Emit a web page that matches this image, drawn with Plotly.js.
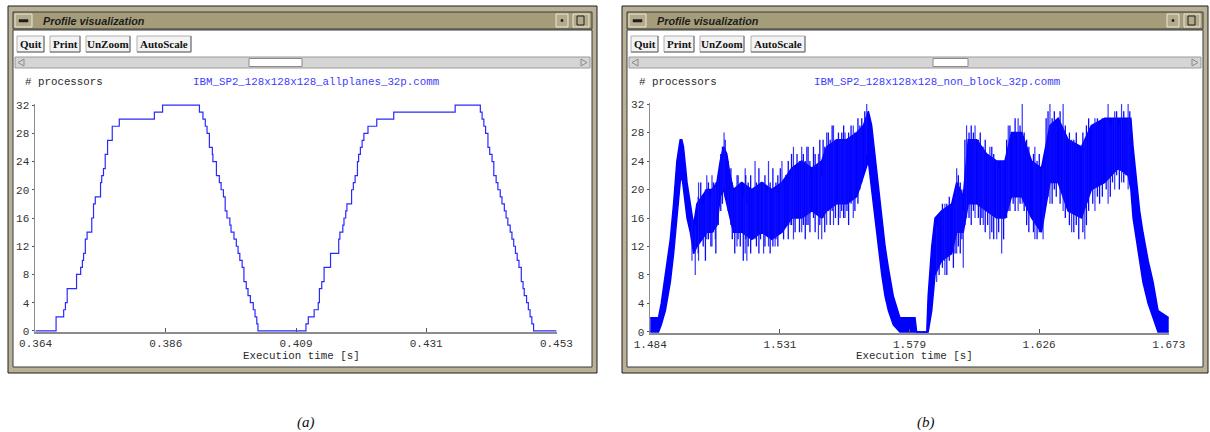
<!DOCTYPE html>
<html><head><meta charset="utf-8">
<script src="https://cdn.plot.ly/plotly-3.0.1.min.js"></script>
<style>html,body{margin:0;padding:0;background:#fff;overflow:hidden}#chart{width:1210px;height:432px}</style>
</head><body><div id="chart"></div>
<script>
// ---------- Panel (a): IBM_SP2_128x128x128_allplanes_32p.comm ----------
const fileA = 'IBM_SP2_128x128x128_allplanes_32p.comm';
const tA = [0.3640,0.3675,0.3688,0.3691,0.3694,0.3710,0.3717,0.3720,0.3722,0.3725,0.3728,0.3736,0.3739,0.3742,0.3751,0.3753,0.3756,0.3759,0.3763,0.3771,0.3783,0.3843,0.3857,
 0.3920,0.3926,0.3930,0.3933,0.3937,0.3942,0.3943,0.3949,0.3954,0.3957,0.3961,0.3964,0.3967,0.3972,0.3974,0.3979,0.3983,0.3986,0.3989,0.3993,0.3996,0.4000,0.4003,0.4007,0.4012,0.4015,0.4018,0.4020,
 0.4102,0.4106,0.4116,0.4123,0.4125,0.4129,0.4133,0.4144,0.4158,0.4160,0.4165,0.4167,0.4170,0.4172,0.4180,0.4183,0.4186,0.4190,0.4192,0.4195,0.4198,0.4201,0.4208,0.4223,0.4252,0.4357,
 0.4400,0.4403,0.4406,0.4409,0.4413,0.4416,0.4420,0.4423,0.4427,0.4430,0.4434,0.4437,0.4441,0.4444,0.4447,0.4451,0.4454,0.4457,0.4460,0.4463,0.4466,0.4470,0.4473,0.4475,0.4479,0.4482,0.4485,0.4488,0.4491,0.4530];
const procA = [0,2,3,4,6,8,9,10,11,13,14,16,18,19,21,22,23,25,27,29,30,31,32,
 31,30,29,28,26,25,24,22,21,20,19,17,16,15,14,13,12,11,10,9,7,6,5,4,3,2,1,0,
 1,2,3,4,6,7,9,11,13,14,15,16,17,18,20,21,22,24,25,26,27,28,29,30,31,32,
 31,30,29,28,26,25,24,22,21,20,19,18,17,16,15,14,13,12,11,10,9,7,6,5,4,3,2,1,0,0];
const tickValsA = [0.364,0.38625,0.4085,0.43075,0.453];
const tickTextA = ['0.364','0.386','0.409','0.431','0.453'];

// ---------- Panel (b): IBM_SP2_128x128x128_non_block_32p.comm ----------
const fileB = 'IBM_SP2_128x128x128_non_block_32p.comm';
// dense core of the signal: lower / upper envelope
const tB = [1.4840,1.4870,1.4880,1.4895,1.4904,1.4913,1.4925,1.4937,1.4949,1.4955,1.4961,1.4974,1.4986,1.4998,1.5010,1.5028,1.5046,1.5065,1.5083,1.5095,1.5107,1.5119,1.5131,1.5143,1.5174,1.5210,1.5247,1.5283,1.5320,1.5356,1.5392,1.5429,1.5465,1.5483,1.5520,1.5556,1.5593,1.5617,1.5635,1.5647,1.5659,1.5671,1.5684,1.5696,1.5708,1.5726,1.5750,1.5805,1.5811,1.5848,1.5853,1.5866,1.5878,1.5902,1.5939,1.5957,1.5981,1.5999,1.6030,1.6066,1.6103,1.6133,1.6157,1.6194,1.6230,1.6266,1.6297,1.6327,1.6363,1.6412,1.6448,1.6497,1.6545,1.6582,1.6592,1.6600,1.6612,1.6624,1.6636,1.6655,1.6673,1.6691,1.6730];
const loB = [0,0,1,3,5,7,11,16,21,22, 20,16,14,11,12,13,14,14,15,19, 20,18,16,14,14,13,14,13,14,16, 16,17,16,17,18,18,19,22,24,20, 16,12,8,5,3,1,0,0,0,0, 0,3,8,10,11,14,14,18,18,17, 16,16,19,19,16,14,21,21,17,16, 20,21,23,22,20,16,13,10,7,4, 2,0,0];
const hiB = [2,2,4,8,11,13,18,24,27,27, 26,21,18,15,18,19,20,20,21,24, 26,25,22,20,21,20,21,20,21,23, 24,23,24,26,27,27,28,29,31,29, 25,21,16,12,9,5,2,2,0,0, 5,12,16,17,18,21,19,27,27,25, 24,24,28,28,24,23,29,30,27,26, 29,30,30,30,30,26,21,17,14,10, 7,3,2];
// isolated long spikes (time, min, max)
const spikeT = [1.4992,1.5004,1.5016,1.5046,1.5065,1.5077,1.5109,1.5156,1.5186,1.5192,1.5222,1.5253,1.5271,1.5295,1.5320,1.5350,1.5362,1.5392,1.5416,1.5453,1.5465,1.5483,1.5508,1.5532,1.5550,1.5580,1.5629,1.5884,1.5914,1.5957,1.5981,1.5993,1.6024,1.6054,1.6078,1.6103,1.6121,1.6145,1.6181,1.6196,1.6242,1.6272,1.6297,1.6345,1.6376,1.6424,1.6461,1.6509,1.6533,1.6558,1.6582];
const spikeLo = [10,8,10,13,12,13,20,12,11,10,13,11,12,12,14,15,13,14,15,13,13,15,15,16,16,16,25,7,8,11,9,16,16,15,13,13,11,17,17,18,13,13,18,17,14,13,17,18,20,21,20];
const spikeHi = [16,15,21,22,22,21,28,22,23,18,24,21,24,20,24,22,26,26,26,25,22,28,29,27,28,29,32,15,18,23,17,29,29,26,26,24,24,29,30,32,26,23,32,32,27,27,30,32,31,32,32];
// fine jitter of the busy phases (time, min, max)
const jitterT = [1.5015,1.5024,1.5033,1.5041,1.5052,1.5061,1.5070,1.5079,1.5088,1.5097,1.5103,1.5113,1.5124,1.5134,1.5139,1.5148,1.5160,1.5168,1.5179,1.5188,1.5197,1.5206,1.5215,1.5227,1.5236,1.5242,1.5258,1.5266,1.5277,1.5287,1.5298,1.5305,1.5314,1.5326,1.5334,1.5343,1.5355,1.5368,1.5375,1.5384,1.5398,1.5405,1.5411,1.5422,1.5435,1.5441,1.5458,1.5470,1.5476,1.5489,1.5496,1.5503,1.5515,1.5526,1.5538,1.5545,1.5557,1.5563,1.5572,1.5586,1.5597,1.5604,1.5611,1.5622,
 1.5893,1.5905,1.5912,1.5921,1.5930,1.5945,1.5951,1.5963,1.5970,1.5976,1.5987,1.6002,1.6010,1.6018,1.6036,1.6043,1.6049,1.6061,1.6070,1.6085,1.6092,1.6110,1.6128,1.6139,1.6151,1.6163,1.6170,1.6188,1.6203,1.6212,1.6220,1.6237,1.6250,1.6258,1.6283,1.6290,1.6305,1.6313,1.6320,1.6334,1.6353,1.6368,1.6384,1.6393,1.6402,1.6417,1.6430,1.6438,1.6453,1.6470,1.6478,1.6488,1.6502,1.6517,1.6525,1.6540,1.6550,1.6566,1.6574,1.6588];
const jitterLo = [11,13,12,10,13,12,14,11,15,17,18,19,17,15,13,11,13,12,10,13,12,11,13,12,11,13,12,14,11,12,13,12,14,13,15,13,15,14,16,14,15,13,15,14,16,14,15,16,14,17,15,17,16,15,17,16,17,15,18,17,18,20,21,23,
 8,9,10,8,10,9,11,12,11,13,15,16,15,17,16,15,16,14,15,14,13,14,13,16,17,18,17,18,17,15,14,14,13,14,18,19,18,20,19,18,16,15,14,15,13,14,15,17,18,19,18,19,20,19,21,22,20,21,22,21];
const jitterHi = [19,21,18,20,21,19,21,20,22,25,26,27,24,23,21,20,22,21,19,22,21,22,20,21,23,21,22,20,21,23,21,22,23,21,22,24,25,23,25,24,25,24,26,24,26,25,27,27,26,28,27,29,27,28,28,29,27,28,29,28,30,29,30,31,
 16,18,17,18,19,18,19,22,21,20,27,28,29,28,27,28,26,27,25,26,25,23,24,27,29,28,30,29,28,27,26,25,24,25,30,31,30,31,29,31,29,28,27,28,26,28,29,30,29,30,29,30,30,29,30,31,29,31,30,31];
const tickValsB = [1.484,1.53125,1.5785,1.62575,1.673];
const tickTextB = ['1.484','1.531','1.579','1.626','1.673'];

const yTicks = [0,4,8,12,16,20,24,28,32];
const yLabel = '# processors';
const xLabel = 'Execution time [s]';
const winTitle = 'Profile visualization';
const buttons = ['Quit','Print','UnZoom','AutoScale'];
const captions = ['(a)','(b)'];

// ---------- geometry helpers ----------
const W = 1210, H = 432;
const shapes = [], ann = [];
const px = x => x / W, py = y => 1 - y / H;
function rect(x0,y0,x1,y1,fill,lc,lw){
  shapes.push({type:'rect',xref:'paper',yref:'paper',x0:px(x0),x1:px(x1),y0:py(y1),y1:py(y0),
    fillcolor:fill,line:{color:lc||'rgba(0,0,0,0)',width:lw===undefined?1:lw},layer:'below'});
}
function seg(x0,y0,x1,y1,c,w){
  shapes.push({type:'line',xref:'paper',yref:'paper',x0:px(x0),x1:px(x1),y0:py(y0),y1:py(y1),
    line:{color:c,width:w||1},layer:'below'});
}
function poly(pts,fill,lc){
  const d = pts.map((p,i)=>(i?'L':'M')+px(p[0]).toFixed(5)+','+py(p[1]).toFixed(5)).join(' ')+' Z';
  shapes.push({type:'path',xref:'paper',yref:'paper',path:d,fillcolor:fill,line:{color:lc,width:1},layer:'below'});
}
function txt(x,y,t,font,xa){
  ann.push({xref:'paper',yref:'paper',x:px(x),y:py(y),text:t,showarrow:false,xanchor:xa||'left',yanchor:'middle',font:font});
}
const mono = {family:'Liberation Mono, DejaVu Sans Mono, monospace', size:10.8, color:'#2a2a2a'};

function windowChrome(L,R,T,B,thumb0,thumb1,fileText,fileX,xTitleX){
  rect(L,T,R,B,'#b8b196','#1e1e1e',1);
  rect(L+5,T+6,R-5,T+23,'#a59d7a','#3a3a3a',1);
  rect(L+5,T+24,R-5,B-6,'#ffffff','#3a3a3a',1);
  // menu button
  rect(L+7,T+8,L+24,T+21,'#b3ab8b','#ece8d8',1);
  rect(L+11,T+13.5,L+20,T+16,'#1e1e1e','#1e1e1e',0.5);
  txt(L+33,T+14.5,'<b><i>'+winTitle+'</i></b>',{family:'Liberation Sans, Arial, sans-serif',size:10.8,color:'#1c1c1c'});
  // right title bar buttons
  rect(R-41,T+8,R-29,T+21,'#b3ab8b','#ece8d8',1);
  rect(R-36,T+13.5,R-34,T+15.5,'#1e1e1e','#1e1e1e',0.5);
  rect(R-24,T+8,R-8,T+21,'#b3ab8b','#ece8d8',1);
  rect(R-20,T+10,R-13,T+19,'rgba(0,0,0,0)','#1e1e1e',1);
  // push buttons
  const bx = [[9,36],[42,72],[78,122],[129,183]];
  buttons.forEach((b,i)=>{
    const x0=L+bx[i][0], x1=L+bx[i][1];
    rect(x0,T+30,x1,T+46,'#f3f3f3','#b0b0b0',1);
    seg(x0,T+46,x1,T+46,'#6a6a6a',1);
    seg(x1,T+30,x1,T+46,'#6a6a6a',1);
    txt((x0+x1)/2,T+38,'<b>'+b+'</b>',{family:'Liberation Serif, Times New Roman, serif',size:11,color:'#111'},'center');
  });
  // scrollbar
  rect(L+7,T+51,R-7,T+62,'#d5d5d5','#9a9a9a',1);
  poly([[L+10,T+56.5],[L+16,T+53],[L+16,T+60]],'rgba(0,0,0,0)','#8a8a8a');
  poly([[R-10,T+56.5],[R-16,T+53],[R-16,T+60]],'rgba(0,0,0,0)','#8a8a8a');
  rect(thumb0,T+52.5,thumb1,T+60.5,'#ffffff','#8a8a8a',1);
  // plot texts
  txt(L+15,T+76,yLabel,mono);
  txt(fileX,T+76,fileText,Object.assign({},mono,{color:'#3c3cff'}),'center');
  txt(xTitleX,T+350,xLabel,mono,'center');
}
windowChrome(8,597,6,373,249,302,fileA,315.5,301.5);
windowChrome(622,1208,6,373,933,968,fileB,937,914.5);
txt(305.5,422,'<i>'+captions[0]+'</i>',{family:'Liberation Serif, DejaVu Serif, serif',size:15,color:'#111'},'center');
txt(925.5,422,'<i>'+captions[1]+'</i>',{family:'Liberation Serif, DejaVu Serif, serif',size:15,color:'#111'},'center');

// ---------- traces ----------
function segments(T,LO,HI){
  const x=[], y=[];
  T.forEach((t,i)=>{ x.push(t,t,null); y.push(LO[i],HI[i],null); });
  return {x:x,y:y};
}
const sp = segments(spikeT,spikeLo,spikeHi);
const jt = segments(jitterT,jitterLo,jitterHi);

const traces = [
  {x:tA, y:procA, type:'scatter', mode:'lines', line:{shape:'hv',color:'#2a2aff',width:1.2}, xaxis:'x', yaxis:'y', hoverinfo:'skip'},
  {x:tB, y:loB, type:'scatter', mode:'lines', line:{color:'#0000ff',width:1.5}, xaxis:'x2', yaxis:'y2', hoverinfo:'skip'},
  {x:tB, y:hiB, type:'scatter', mode:'lines', fill:'tonexty', fillcolor:'#0000ff', line:{color:'#0000ff',width:1.5}, xaxis:'x2', yaxis:'y2', hoverinfo:'skip'},
  {x:jt.x, y:jt.y, type:'scatter', mode:'lines', line:{color:'#0a0aff',width:1.3}, xaxis:'x2', yaxis:'y2', hoverinfo:'skip', connectgaps:false},
  {x:sp.x, y:sp.y, type:'scatter', mode:'lines', line:{color:'rgba(20,20,255,0.85)',width:1.2}, xaxis:'x2', yaxis:'y2', hoverinfo:'skip', connectgaps:false}
];

const tickFont = {family:'Liberation Mono, DejaVu Sans Mono, monospace', size:11, color:'#333'};
function xAx(domain,range,tv,tt,anchor){
  return {domain:domain, range:range, anchor:anchor, tickmode:'array', tickvals:tv, ticktext:tt,
    showgrid:false, zeroline:false, showline:true, linecolor:'#8c8c8c', linewidth:1.5,
    ticks:'inside', ticklen:4, tickcolor:'#555', tickwidth:1, tickfont:tickFont, fixedrange:true};
}
function yAx(domain,anchor){
  return {domain:domain, range:[-0.15,32.15], anchor:anchor, tickmode:'array', tickvals:yTicks,
    showgrid:false, zeroline:false, showline:true, linecolor:'#8c8c8c', linewidth:1.5,
    ticks:'outside', ticklen:2, tickcolor:'#555', tickfont:tickFont, fixedrange:true};
}
const layout = {
  width:W, height:H, margin:{l:0,r:0,t:0,b:0,autoexpand:false},
  paper_bgcolor:'#ffffff', plot_bgcolor:'rgba(0,0,0,0)', showlegend:false,
  xaxis: xAx([px(35),px(557)],[0.3639,0.4531],tickValsA,tickTextA,'y'),
  yaxis: yAx([py(332),py(104)],'x'),
  xaxis2: xAx([px(650),px(1169)],[1.4839,1.6731],tickValsB,tickTextB,'y2'),
  yaxis2: yAx([py(333),py(103)],'x2'),
  shapes: shapes, annotations: ann
};
Plotly.newPlot('chart', traces, layout, {staticPlot:true, displayModeBar:false});
</script></body></html>
